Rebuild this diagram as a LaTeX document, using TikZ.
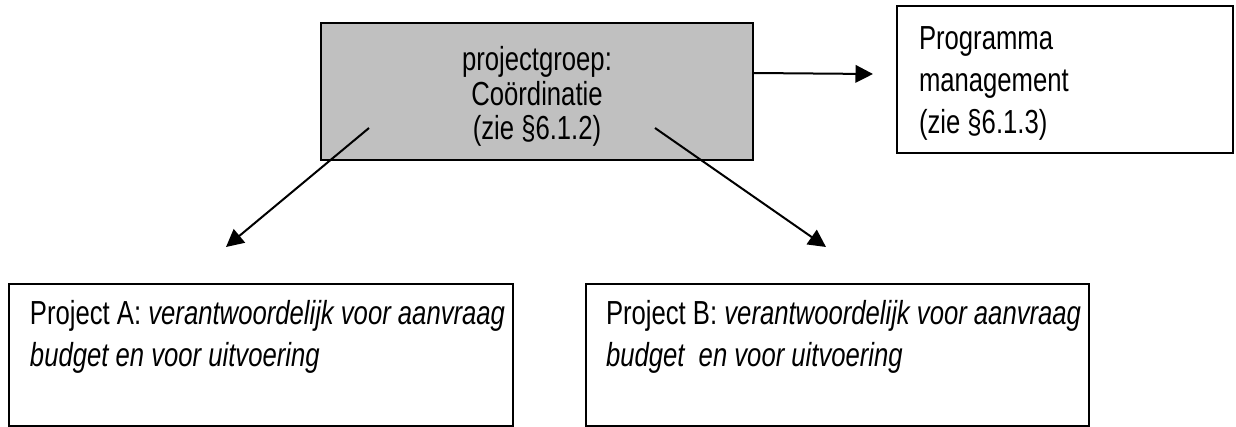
\documentclass[tikz,border=0pt]{standalone}
\usepackage{fontspec}
\setmainfont[FakeStretch=0.77]{Liberation Sans}
\usetikzlibrary{arrows.meta,calc,fit}
\definecolor{boxgray}{HTML}{C0C0C0}

\begin{document}
\begin{tikzpicture}[x=0.6pt,y=-0.6pt,
	line width=1.2pt,
	>={Triangle[length=10.5pt,width=10.5pt]},
	kader/.style={draw,rectangle,inner sep=0pt},
	tekst/.style={anchor=north west,align=left,inner sep=0pt,font=\fontsize{20}{25.2}\selectfont}]
\useasboundingbox (0,0) rectangle (1236,426);
\clip (0,0) rectangle (1236,426);
\fill[white] (0,0) rectangle (1236,426);

% projectgroep in het midden
\node[kader,fill=boxgray,fit={(321,23) (753,160)}] (groep) {};
\node[align=center,inner sep=0pt,font=\fontsize{20}{20.7}\selectfont] (groeptekst)
	at ($(groep.center)+(0,5)$) {projectgroep:\\Coördinatie\\(zie §6.1.2)};

% programma management rechts
\node[kader,fit={(897,6) (1233,153)}] (prog) {};
\node[tekst] (progtekst) at (918,26) {Programma\\management\\(zie §6.1.3)};

% de twee projecten onderaan
\node[kader,fit={(9,284) (513,425.5)}] (projA) {};
\node[kader,fit={(586,284) (1089,425.5)}] (projB) {};
\node[tekst] (tekstA) at (29,299) {Project A: \textit{verantwoordelijk voor aanvraag}\\\textit{budget en voor uitvoering}};
\node[tekst] (tekstB) at (605,299) {Project B: \textit{verantwoordelijk voor aanvraag}\\\textit{budget\ \ en voor uitvoering}};

\coordinate (naarA) at (226,247);
\coordinate (naarB) at (826,247);
\coordinate (naarProg) at (873,74);

\draw[->] ($(groep.south west)+(49,-33)$) -- (naarA);
\draw[->] ($(groep.south west)+(335,-33)$) -- (naarB);
\draw[->] ($(groep.north east)+(0,51)$) -- (naarProg);
\end{tikzpicture}
\end{document}
